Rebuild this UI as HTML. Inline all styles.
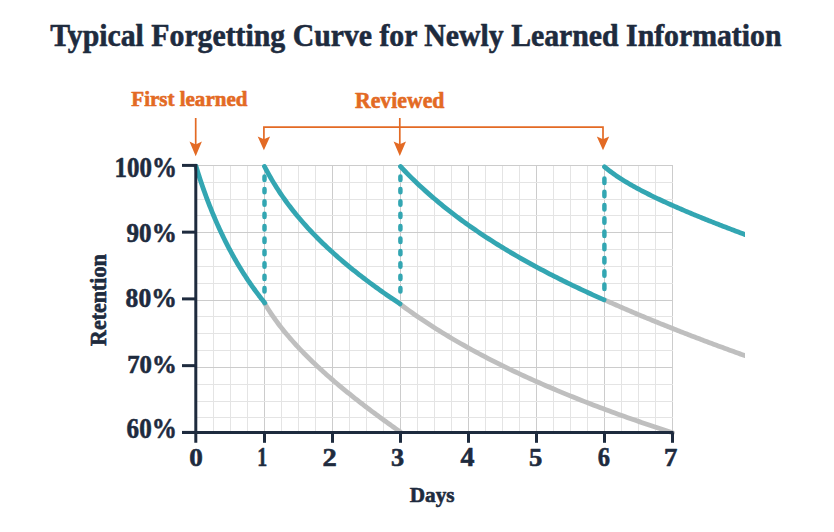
<!DOCTYPE html>
<html><head><meta charset="utf-8"><style>
html,body{margin:0;padding:0;background:#fff;width:834px;height:532px;overflow:hidden}
svg{display:block}
text{font-family:"Liberation Serif", serif;font-weight:bold;stroke-linejoin:round}
</style></head><body>
<svg width="834" height="532" viewBox="0 0 834 532">
<rect width="834" height="532" fill="#fff"/>
<line x1="213.5" y1="165.0" x2="213.5" y2="432.4" stroke="#e4e4e4" stroke-width="1"/>
<line x1="230.5" y1="165.0" x2="230.5" y2="432.4" stroke="#e4e4e4" stroke-width="1"/>
<line x1="247.5" y1="165.0" x2="247.5" y2="432.4" stroke="#e4e4e4" stroke-width="1"/>
<line x1="264.5" y1="165.0" x2="264.5" y2="432.4" stroke="#cccccc" stroke-width="1"/>
<line x1="281.5" y1="165.0" x2="281.5" y2="432.4" stroke="#e4e4e4" stroke-width="1"/>
<line x1="298.5" y1="165.0" x2="298.5" y2="432.4" stroke="#e4e4e4" stroke-width="1"/>
<line x1="315.5" y1="165.0" x2="315.5" y2="432.4" stroke="#e4e4e4" stroke-width="1"/>
<line x1="332.5" y1="165.0" x2="332.5" y2="432.4" stroke="#cccccc" stroke-width="1"/>
<line x1="349.5" y1="165.0" x2="349.5" y2="432.4" stroke="#e4e4e4" stroke-width="1"/>
<line x1="366.5" y1="165.0" x2="366.5" y2="432.4" stroke="#e4e4e4" stroke-width="1"/>
<line x1="383.5" y1="165.0" x2="383.5" y2="432.4" stroke="#e4e4e4" stroke-width="1"/>
<line x1="400.5" y1="165.0" x2="400.5" y2="432.4" stroke="#cccccc" stroke-width="1"/>
<line x1="417.5" y1="165.0" x2="417.5" y2="432.4" stroke="#e4e4e4" stroke-width="1"/>
<line x1="434.5" y1="165.0" x2="434.5" y2="432.4" stroke="#e4e4e4" stroke-width="1"/>
<line x1="451.5" y1="165.0" x2="451.5" y2="432.4" stroke="#e4e4e4" stroke-width="1"/>
<line x1="468.5" y1="165.0" x2="468.5" y2="432.4" stroke="#cccccc" stroke-width="1"/>
<line x1="485.5" y1="165.0" x2="485.5" y2="432.4" stroke="#e4e4e4" stroke-width="1"/>
<line x1="502.5" y1="165.0" x2="502.5" y2="432.4" stroke="#e4e4e4" stroke-width="1"/>
<line x1="519.5" y1="165.0" x2="519.5" y2="432.4" stroke="#e4e4e4" stroke-width="1"/>
<line x1="536.5" y1="165.0" x2="536.5" y2="432.4" stroke="#cccccc" stroke-width="1"/>
<line x1="553.5" y1="165.0" x2="553.5" y2="432.4" stroke="#e4e4e4" stroke-width="1"/>
<line x1="570.5" y1="165.0" x2="570.5" y2="432.4" stroke="#e4e4e4" stroke-width="1"/>
<line x1="587.5" y1="165.0" x2="587.5" y2="432.4" stroke="#e4e4e4" stroke-width="1"/>
<line x1="604.5" y1="165.0" x2="604.5" y2="432.4" stroke="#cccccc" stroke-width="1"/>
<line x1="621.5" y1="165.0" x2="621.5" y2="432.4" stroke="#e4e4e4" stroke-width="1"/>
<line x1="638.5" y1="165.0" x2="638.5" y2="432.4" stroke="#e4e4e4" stroke-width="1"/>
<line x1="655.5" y1="165.0" x2="655.5" y2="432.4" stroke="#e4e4e4" stroke-width="1"/>
<line x1="672.5" y1="165.0" x2="672.5" y2="432.4" stroke="#cccccc" stroke-width="1"/>
<line x1="196.0" y1="165.5" x2="673" y2="165.5" stroke="#cccccc" stroke-width="1"/>
<line x1="196.0" y1="182.5" x2="673" y2="182.5" stroke="#e4e4e4" stroke-width="1"/>
<line x1="196.0" y1="199.5" x2="673" y2="199.5" stroke="#e4e4e4" stroke-width="1"/>
<line x1="196.0" y1="215.5" x2="673" y2="215.5" stroke="#e4e4e4" stroke-width="1"/>
<line x1="196.0" y1="232.5" x2="673" y2="232.5" stroke="#cccccc" stroke-width="1"/>
<line x1="196.0" y1="249.5" x2="673" y2="249.5" stroke="#e4e4e4" stroke-width="1"/>
<line x1="196.0" y1="266.5" x2="673" y2="266.5" stroke="#e4e4e4" stroke-width="1"/>
<line x1="196.0" y1="283.5" x2="673" y2="283.5" stroke="#e4e4e4" stroke-width="1"/>
<line x1="196.0" y1="300.5" x2="673" y2="300.5" stroke="#cccccc" stroke-width="1"/>
<line x1="196.0" y1="316.5" x2="673" y2="316.5" stroke="#e4e4e4" stroke-width="1"/>
<line x1="196.0" y1="333.5" x2="673" y2="333.5" stroke="#e4e4e4" stroke-width="1"/>
<line x1="196.0" y1="350.5" x2="673" y2="350.5" stroke="#e4e4e4" stroke-width="1"/>
<line x1="196.0" y1="367.5" x2="673" y2="367.5" stroke="#cccccc" stroke-width="1"/>
<line x1="196.0" y1="384.5" x2="673" y2="384.5" stroke="#e4e4e4" stroke-width="1"/>
<line x1="196.0" y1="401.5" x2="673" y2="401.5" stroke="#e4e4e4" stroke-width="1"/>
<line x1="196.0" y1="417.5" x2="673" y2="417.5" stroke="#e4e4e4" stroke-width="1"/>
<defs><clipPath id="clipR"><rect x="0" y="0" width="745" height="532"/></clipPath></defs>
<path d="M264.70,303.50 L266.21,306.01 L267.72,308.43 L269.23,310.79 L270.74,313.08 L272.24,315.31 L273.75,317.48 L275.26,319.60 L276.77,321.67 L278.28,323.69 L279.79,325.68 L281.30,327.62 L282.81,329.52 L284.32,331.39 L285.82,333.23 L287.33,335.04 L288.84,336.81 L290.35,338.56 L291.86,340.28 L293.37,341.98 L294.88,343.65 L296.39,345.29 L297.90,346.92 L299.40,348.52 L300.91,350.11 L302.42,351.68 L303.93,353.22 L305.44,354.75 L306.95,356.27 L308.46,357.76 L309.97,359.24 L311.48,360.71 L312.98,362.16 L314.49,363.60 L316.00,365.02 L317.51,366.43 L319.02,367.83 L320.53,369.22 L322.04,370.60 L323.55,371.96 L325.06,373.31 L326.56,374.66 L328.07,375.99 L329.58,377.31 L331.09,378.63 L332.60,379.93 L334.11,381.23 L335.62,382.51 L337.13,383.79 L338.64,385.06 L340.14,386.32 L341.65,387.58 L343.16,388.82 L344.67,390.06 L346.18,391.29 L347.69,392.52 L349.20,393.74 L350.71,394.95 L352.22,396.15 L353.72,397.35 L355.23,398.54 L356.74,399.73 L358.25,400.91 L359.76,402.09 L361.27,403.26 L362.78,404.42 L364.29,405.58 L365.80,406.73 L367.30,407.88 L368.81,409.02 L370.32,410.16 L371.83,411.30 L373.34,412.43 L374.85,413.55 L376.36,414.67 L377.87,415.79 L379.38,416.90 L380.88,418.00 L382.39,419.11 L383.90,420.21 L385.41,421.30 L386.92,422.39 L388.43,423.48 L389.94,424.57 L391.45,425.65 L392.96,426.72 L394.46,427.80 L395.97,428.87 L397.48,429.93 L398.99,431.00 L400.50,432.06" fill="none" stroke="#bfbfbf" stroke-width="4.8" stroke-linecap="round" clip-path="url(#clipR)"/>
<path d="M400.00,304.00 L403.03,306.25 L406.06,308.47 L409.08,310.65 L412.11,312.80 L415.14,314.92 L418.17,317.01 L421.19,319.07 L424.22,321.10 L427.25,323.10 L430.28,325.07 L433.31,327.02 L436.33,328.94 L439.36,330.84 L442.39,332.71 L445.42,334.56 L448.44,336.39 L451.47,338.19 L454.50,339.97 L457.53,341.73 L460.56,343.47 L463.58,345.19 L466.61,346.89 L469.64,348.57 L472.67,350.23 L475.69,351.87 L478.72,353.50 L481.75,355.11 L484.78,356.70 L487.81,358.27 L490.83,359.83 L493.86,361.37 L496.89,362.90 L499.92,364.41 L502.94,365.90 L505.97,367.39 L509.00,368.85 L512.03,370.31 L515.06,371.75 L518.08,373.17 L521.11,374.59 L524.14,375.99 L527.17,377.37 L530.19,378.75 L533.22,380.11 L536.25,381.46 L539.28,382.80 L542.31,384.13 L545.33,385.45 L548.36,386.75 L551.39,388.05 L554.42,389.33 L557.44,390.61 L560.47,391.87 L563.50,393.12 L566.53,394.37 L569.56,395.60 L572.58,396.83 L575.61,398.04 L578.64,399.25 L581.67,400.44 L584.69,401.63 L587.72,402.81 L590.75,403.98 L593.78,405.14 L596.81,406.30 L599.83,407.44 L602.86,408.58 L605.89,409.71 L608.92,410.83 L611.94,411.94 L614.97,413.05 L618.00,414.15 L621.03,415.24 L624.06,416.33 L627.08,417.40 L630.11,418.47 L633.14,419.54 L636.17,420.59 L639.19,421.64 L642.22,422.69 L645.25,423.72 L648.28,424.75 L651.31,425.78 L654.33,426.79 L657.36,427.81 L660.39,428.81 L663.42,429.81 L666.44,430.80 L669.47,431.79 L672.50,432.77" fill="none" stroke="#bfbfbf" stroke-width="4.8" stroke-linecap="round" clip-path="url(#clipR)"/>
<path d="M604.10,299.70 L605.66,300.40 L607.22,301.10 L608.79,301.79 L610.35,302.49 L611.91,303.18 L613.47,303.87 L615.04,304.55 L616.60,305.24 L618.16,305.92 L619.72,306.60 L621.28,307.28 L622.85,307.95 L624.41,308.63 L625.97,309.30 L627.53,309.97 L629.10,310.64 L630.66,311.30 L632.22,311.97 L633.78,312.63 L635.34,313.29 L636.91,313.94 L638.47,314.60 L640.03,315.26 L641.59,315.91 L643.16,316.56 L644.72,317.21 L646.28,317.85 L647.84,318.50 L649.40,319.14 L650.97,319.78 L652.53,320.42 L654.09,321.06 L655.65,321.70 L657.22,322.33 L658.78,322.96 L660.34,323.60 L661.90,324.23 L663.46,324.85 L665.03,325.48 L666.59,326.10 L668.15,326.73 L669.71,327.35 L671.28,327.97 L672.84,328.59 L674.40,329.20 L675.96,329.82 L677.52,330.43 L679.09,331.05 L680.65,331.66 L682.21,332.27 L683.77,332.87 L685.34,333.48 L686.90,334.08 L688.46,334.69 L690.02,335.29 L691.58,335.89 L693.15,336.49 L694.71,337.09 L696.27,337.68 L697.83,338.28 L699.40,338.87 L700.96,339.47 L702.52,340.06 L704.08,340.65 L705.64,341.24 L707.21,341.82 L708.77,342.41 L710.33,342.99 L711.89,343.58 L713.46,344.16 L715.02,344.74 L716.58,345.32 L718.14,345.90 L719.70,346.47 L721.27,347.05 L722.83,347.62 L724.39,348.20 L725.95,348.77 L727.52,349.34 L729.08,349.91 L730.64,350.48 L732.20,351.05 L733.76,351.61 L735.33,352.18 L736.89,352.74 L738.45,353.31 L740.01,353.87 L741.58,354.43 L743.14,354.99 L744.70,355.55" fill="none" stroke="#bfbfbf" stroke-width="4.8" stroke-linecap="round" clip-path="url(#clipR)"/>
<line x1="264.5" y1="176.5" x2="264.5" y2="297" stroke="#33a6b2" stroke-width="4.5" stroke-dasharray="3.4 9.0" stroke-linecap="round"/>
<line x1="400.4" y1="176.5" x2="400.4" y2="298" stroke="#33a6b2" stroke-width="4.5" stroke-dasharray="3.4 9.0" stroke-linecap="round"/>
<line x1="604.4" y1="178.5" x2="604.4" y2="292" stroke="#33a6b2" stroke-width="4.5" stroke-dasharray="4.5 8.75" stroke-linecap="round"/>
<path d="M196.00,166.30 L196.76,168.79 L197.53,171.25 L198.29,173.67 L199.06,176.05 L199.82,178.40 L200.59,180.71 L201.35,182.99 L202.12,185.23 L202.88,187.45 L203.64,189.63 L204.41,191.78 L205.17,193.91 L205.94,196.00 L206.70,198.07 L207.47,200.10 L208.23,202.11 L209.00,204.10 L209.76,206.06 L210.52,207.99 L211.29,209.90 L212.05,211.79 L212.82,213.65 L213.58,215.49 L214.35,217.30 L215.11,219.10 L215.88,220.87 L216.64,222.62 L217.40,224.35 L218.17,226.06 L218.93,227.75 L219.70,229.42 L220.46,231.07 L221.23,232.70 L221.99,234.31 L222.76,235.91 L223.52,237.49 L224.28,239.05 L225.05,240.59 L225.81,242.12 L226.58,243.62 L227.34,245.12 L228.11,246.60 L228.87,248.06 L229.64,249.50 L230.40,250.93 L231.16,252.35 L231.93,253.75 L232.69,255.14 L233.46,256.51 L234.22,257.87 L234.99,259.22 L235.75,260.55 L236.52,261.87 L237.28,263.17 L238.04,264.47 L238.81,265.75 L239.57,267.02 L240.34,268.27 L241.10,269.51 L241.87,270.75 L242.63,271.97 L243.40,273.18 L244.16,274.37 L244.92,275.56 L245.69,276.73 L246.45,277.90 L247.22,279.05 L247.98,280.20 L248.75,281.33 L249.51,282.45 L250.28,283.56 L251.04,284.67 L251.80,285.76 L252.57,286.84 L253.33,287.91 L254.10,288.98 L254.86,290.03 L255.63,291.08 L256.39,292.12 L257.16,293.14 L257.92,294.16 L258.68,295.17 L259.45,296.17 L260.21,297.17 L260.98,298.15 L261.74,299.13 L262.51,300.10 L263.27,301.06 L264.04,302.01 L264.80,302.95" fill="none" stroke="#33a6b2" stroke-width="4.8" stroke-linecap="round" clip-path="url(#clipR)"/>
<path d="M264.50,166.50 L266.01,169.38 L267.51,172.18 L269.02,174.90 L270.52,177.54 L272.03,180.12 L273.53,182.63 L275.04,185.08 L276.54,187.47 L278.05,189.80 L279.56,192.08 L281.06,194.32 L282.57,196.50 L284.07,198.65 L285.58,200.75 L287.08,202.81 L288.59,204.83 L290.09,206.81 L291.60,208.76 L293.11,210.68 L294.61,212.56 L296.12,214.42 L297.62,216.24 L299.13,218.04 L300.63,219.81 L302.14,221.55 L303.64,223.27 L305.15,224.96 L306.66,226.63 L308.16,228.28 L309.67,229.90 L311.17,231.50 L312.68,233.09 L314.18,234.65 L315.69,236.20 L317.19,237.72 L318.70,239.23 L320.21,240.72 L321.71,242.20 L323.22,243.66 L324.72,245.10 L326.23,246.53 L327.73,247.94 L329.24,249.34 L330.74,250.72 L332.25,252.10 L333.76,253.45 L335.26,254.80 L336.77,256.13 L338.27,257.45 L339.78,258.76 L341.28,260.05 L342.79,261.34 L344.29,262.61 L345.80,263.87 L347.31,265.13 L348.81,266.37 L350.32,267.60 L351.82,268.83 L353.33,270.04 L354.83,271.24 L356.34,272.44 L357.84,273.62 L359.35,274.80 L360.86,275.97 L362.36,277.13 L363.87,278.28 L365.37,279.42 L366.88,280.56 L368.38,281.69 L369.89,282.81 L371.39,283.92 L372.90,285.03 L374.41,286.13 L375.91,287.22 L377.42,288.31 L378.92,289.39 L380.43,290.46 L381.93,291.53 L383.44,292.59 L384.94,293.64 L386.45,294.69 L387.96,295.73 L389.46,296.77 L390.97,297.80 L392.47,298.82 L393.98,299.84 L395.48,300.85 L396.99,301.86 L398.49,302.87 L400.00,303.86" fill="none" stroke="#33a6b2" stroke-width="4.8" stroke-linecap="round" clip-path="url(#clipR)"/>
<path d="M400.50,166.50 L402.76,168.90 L405.02,171.26 L407.29,173.59 L409.55,175.87 L411.81,178.12 L414.07,180.33 L416.34,182.50 L418.60,184.64 L420.86,186.75 L423.12,188.83 L425.38,190.88 L427.65,192.90 L429.91,194.89 L432.17,196.86 L434.43,198.79 L436.70,200.70 L438.96,202.59 L441.22,204.45 L443.48,206.29 L445.74,208.10 L448.01,209.89 L450.27,211.66 L452.53,213.41 L454.79,215.13 L457.06,216.84 L459.32,218.53 L461.58,220.20 L463.84,221.84 L466.10,223.48 L468.37,225.09 L470.63,226.68 L472.89,228.26 L475.15,229.82 L477.42,231.37 L479.68,232.90 L481.94,234.41 L484.20,235.91 L486.46,237.40 L488.73,238.87 L490.99,240.32 L493.25,241.76 L495.51,243.19 L497.78,244.61 L500.04,246.01 L502.30,247.40 L504.56,248.77 L506.82,250.14 L509.09,251.49 L511.35,252.83 L513.61,254.16 L515.87,255.48 L518.14,256.78 L520.40,258.08 L522.66,259.36 L524.92,260.64 L527.18,261.90 L529.45,263.16 L531.71,264.40 L533.97,265.64 L536.23,266.86 L538.50,268.08 L540.76,269.28 L543.02,270.48 L545.28,271.67 L547.54,272.85 L549.81,274.02 L552.07,275.18 L554.33,276.34 L556.59,277.48 L558.86,278.62 L561.12,279.75 L563.38,280.87 L565.64,281.99 L567.90,283.10 L570.17,284.19 L572.43,285.29 L574.69,286.37 L576.95,287.45 L579.22,288.52 L581.48,289.59 L583.74,290.64 L586.00,291.69 L588.26,292.74 L590.53,293.78 L592.79,294.81 L595.05,295.83 L597.31,296.85 L599.58,297.86 L601.84,298.87 L604.10,299.87" fill="none" stroke="#33a6b2" stroke-width="4.8" stroke-linecap="round" clip-path="url(#clipR)"/>
<path d="M604.50,166.80 L606.06,168.11 L607.62,169.37 L609.17,170.59 L610.73,171.78 L612.29,172.93 L613.85,174.05 L615.40,175.14 L616.96,176.20 L618.52,177.24 L620.08,178.26 L621.64,179.25 L623.19,180.23 L624.75,181.19 L626.31,182.13 L627.87,183.06 L629.42,183.97 L630.98,184.87 L632.54,185.75 L634.10,186.62 L635.66,187.48 L637.21,188.33 L638.77,189.17 L640.33,190.00 L641.89,190.81 L643.44,191.62 L645.00,192.42 L646.56,193.21 L648.12,194.00 L649.68,194.77 L651.23,195.54 L652.79,196.30 L654.35,197.06 L655.91,197.81 L657.46,198.55 L659.02,199.29 L660.58,200.02 L662.14,200.74 L663.70,201.46 L665.25,202.18 L666.81,202.89 L668.37,203.59 L669.93,204.29 L671.48,204.99 L673.04,205.68 L674.60,206.37 L676.16,207.05 L677.72,207.73 L679.27,208.41 L680.83,209.08 L682.39,209.75 L683.95,210.41 L685.50,211.08 L687.06,211.73 L688.62,212.39 L690.18,213.04 L691.74,213.69 L693.29,214.34 L694.85,214.98 L696.41,215.62 L697.97,216.26 L699.52,216.89 L701.08,217.53 L702.64,218.16 L704.20,218.78 L705.76,219.41 L707.31,220.03 L708.87,220.65 L710.43,221.27 L711.99,221.89 L713.54,222.50 L715.10,223.12 L716.66,223.73 L718.22,224.33 L719.78,224.94 L721.33,225.55 L722.89,226.15 L724.45,226.75 L726.01,227.35 L727.56,227.94 L729.12,228.54 L730.68,229.13 L732.24,229.73 L733.80,230.32 L735.35,230.91 L736.91,231.49 L738.47,232.08 L740.03,232.66 L741.58,233.25 L743.14,233.83 L744.70,234.41" fill="none" stroke="#33a6b2" stroke-width="4.8" stroke-linecap="round" clip-path="url(#clipR)"/>
<line x1="195.8" y1="163.9" x2="195.8" y2="442.8" stroke="#1e2b3e" stroke-width="3"/>
<line x1="182" y1="432.4" x2="673.5" y2="432.4" stroke="#1e2b3e" stroke-width="3"/>
<line x1="182" y1="165.40" x2="196.0" y2="165.40" stroke="#1e2b3e" stroke-width="3"/>
<line x1="182" y1="232.15" x2="196.0" y2="232.15" stroke="#1e2b3e" stroke-width="3"/>
<line x1="182" y1="298.90" x2="196.0" y2="298.90" stroke="#1e2b3e" stroke-width="3"/>
<line x1="182" y1="365.65" x2="196.0" y2="365.65" stroke="#1e2b3e" stroke-width="3"/>
<line x1="182" y1="432.40" x2="196.0" y2="432.40" stroke="#1e2b3e" stroke-width="3"/>
<line x1="264.5" y1="432.4" x2="264.5" y2="442.8" stroke="#1e2b3e" stroke-width="3"/>
<line x1="332.5" y1="432.4" x2="332.5" y2="442.8" stroke="#1e2b3e" stroke-width="3"/>
<line x1="400.5" y1="432.4" x2="400.5" y2="442.8" stroke="#1e2b3e" stroke-width="3"/>
<line x1="468.5" y1="432.4" x2="468.5" y2="442.8" stroke="#1e2b3e" stroke-width="3"/>
<line x1="536.5" y1="432.4" x2="536.5" y2="442.8" stroke="#1e2b3e" stroke-width="3"/>
<line x1="604.5" y1="432.4" x2="604.5" y2="442.8" stroke="#1e2b3e" stroke-width="3"/>
<line x1="672.5" y1="432.4" x2="672.5" y2="442.8" stroke="#1e2b3e" stroke-width="3"/>
<line x1="195.7" y1="118" x2="195.7" y2="148" stroke="#e36a24" stroke-width="1.7"/>
<path d="M189.5,141.6 L195.7,144.4 L201.89999999999998,141.6 L195.7,156.2 Z" fill="#e36a24"/>
<line x1="399.8" y1="118" x2="399.8" y2="148" stroke="#e36a24" stroke-width="1.7"/>
<path d="M393.6,141.4 L399.8,144.20000000000002 L406.0,141.4 L399.8,156 Z" fill="#e36a24"/>
<path d="M263.9,143 L263.9,127.1 L603,127.1 L603,143" fill="none" stroke="#e36a24" stroke-width="1.7"/>
<path d="M257.7,136.4 L263.9,139.20000000000002 L270.09999999999997,136.4 L263.9,150.2 Z" fill="#e36a24"/>
<path d="M596.8,136.4 L603,139.20000000000002 L609.2,136.4 L603,150.2 Z" fill="#e36a24"/>
<text x="50.20" y="46.20" font-size="31.96" fill="#1e2b3e" stroke="#1e2b3e" stroke-width="0.6" textLength="731.30" lengthAdjust="spacingAndGlyphs">Typical Forgetting Curve for Newly Learned Information</text>
<text x="131.30" y="105.90" font-size="20.52" fill="#e36a24" stroke="#e36a24" stroke-width="0.6" textLength="116.11" lengthAdjust="spacingAndGlyphs">First learned</text>
<text x="355.00" y="107.50" font-size="22.32" fill="#e36a24" stroke="#e36a24" stroke-width="0.6" textLength="89.41" lengthAdjust="spacingAndGlyphs">Reviewed</text>
<text x="114.60" y="177.40" font-size="28.91" fill="#1e2b3e" stroke="#1e2b3e" stroke-width="0.6" textLength="62.26" lengthAdjust="spacingAndGlyphs">100%</text>
<text x="126.60" y="242.00" font-size="27.42" fill="#1e2b3e" stroke="#1e2b3e" stroke-width="0.6" textLength="50.11" lengthAdjust="spacingAndGlyphs">90%</text>
<text x="125.60" y="307.00" font-size="27.22" fill="#1e2b3e" stroke="#1e2b3e" stroke-width="0.6" textLength="51.15" lengthAdjust="spacingAndGlyphs">80%</text>
<text x="127.20" y="372.60" font-size="25.77" fill="#1e2b3e" stroke="#1e2b3e" stroke-width="0.6" textLength="49.53" lengthAdjust="spacingAndGlyphs">70%</text>
<text x="126.60" y="438.40" font-size="29.22" fill="#1e2b3e" stroke="#1e2b3e" stroke-width="0.6" textLength="50.18" lengthAdjust="spacingAndGlyphs">60%</text>
<text x="409.80" y="501.90" font-size="20.86" fill="#1e2b3e" stroke="#1e2b3e" stroke-width="0.6" textLength="44.73" lengthAdjust="spacingAndGlyphs">Days</text>
<text x="0.00" y="0.00" font-size="22.21" fill="#1e2b3e" stroke="#1e2b3e" stroke-width="0.6" textLength="91.63" lengthAdjust="spacingAndGlyphs" transform="translate(106.40,346.00) rotate(-90)">Retention</text>
<text x="189.20" y="466.00" font-size="26.24" fill="#1e2b3e" stroke="#1e2b3e" stroke-width="0.6" textLength="13.56" lengthAdjust="spacingAndGlyphs">0</text>
<text x="257.20" y="465.70" font-size="27.74" fill="#1e2b3e" stroke="#1e2b3e" stroke-width="0.6" textLength="9.96" lengthAdjust="spacingAndGlyphs">1</text>
<text x="322.40" y="466.10" font-size="25.19" fill="#1e2b3e" stroke="#1e2b3e" stroke-width="0.6" textLength="14.25" lengthAdjust="spacingAndGlyphs">2</text>
<text x="391.00" y="466.10" font-size="25.57" fill="#1e2b3e" stroke="#1e2b3e" stroke-width="0.6" textLength="13.11" lengthAdjust="spacingAndGlyphs">3</text>
<text x="460.40" y="466.10" font-size="26.45" fill="#1e2b3e" stroke="#1e2b3e" stroke-width="0.6" textLength="13.95" lengthAdjust="spacingAndGlyphs">4</text>
<text x="529.00" y="466.10" font-size="24.29" fill="#1e2b3e" stroke="#1e2b3e" stroke-width="0.6" textLength="13.28" lengthAdjust="spacingAndGlyphs">5</text>
<text x="597.80" y="466.10" font-size="26.85" fill="#1e2b3e" stroke="#1e2b3e" stroke-width="0.6" textLength="12.24" lengthAdjust="spacingAndGlyphs">6</text>
<text x="664.00" y="466.10" font-size="25.35" fill="#1e2b3e" stroke="#1e2b3e" stroke-width="0.6" textLength="13.36" lengthAdjust="spacingAndGlyphs">7</text>
</svg>
</body></html>
